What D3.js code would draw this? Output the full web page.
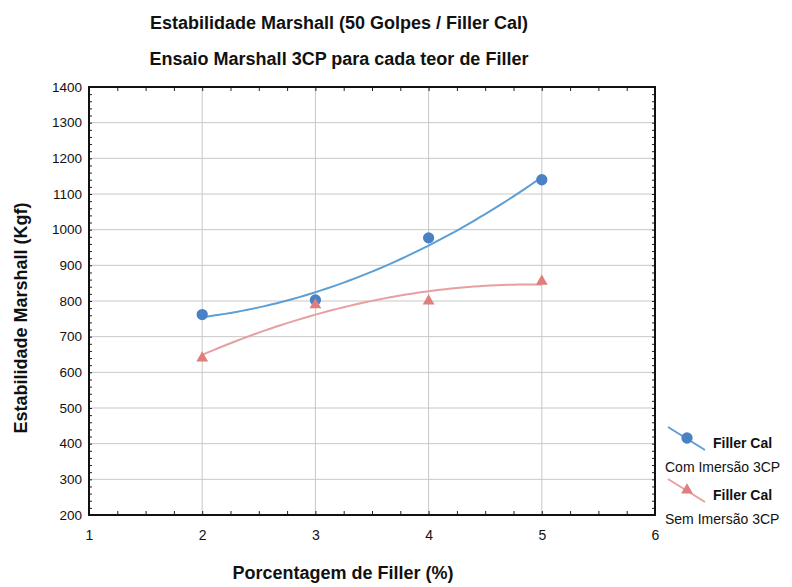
<!DOCTYPE html>
<html>
<head>
<meta charset="utf-8">
<script src="https://cdn.jsdelivr.net/npm/d3@7"></script>
<style>
  body { margin: 0; background: #fff; }
  text { font-family: "Liberation Sans", Arial, sans-serif; fill: #111; }
</style>
</head>
<body>
<svg id="chart"></svg>
<script>
var width = 792;
var height = 587;

var fillerPct = [2, 3, 4, 5];
var comImersao = [762, 803, 977, 1140];
var semImersao = [640, 789, 800, 855];
var xTicks = [1, 2, 3, 4, 5, 6];
var yTicks = [200, 300, 400, 500, 600, 700, 800, 900, 1000, 1100, 1200, 1300, 1400];

var plotLeft = 89, plotRight = 655, plotTop = 87, plotBottom = 515;

var svg = d3.select('#chart')
  .attr("width", width)
  .attr("height", height);

var x = d3.scaleLinear().domain([1, 6]).range([plotLeft, plotRight]);
var y = d3.scaleLinear().domain([200, 1400]).range([plotBottom, plotTop]);

// gridlines
svg.append("g").selectAll("line")
  .data(yTicks.slice(1, -1))
  .enter().append("line")
  .attr("x1", plotLeft).attr("x2", plotRight)
  .attr("y1", function(d) { return y(d); })
  .attr("y2", function(d) { return y(d); })
  .attr("stroke", "#c8c8c8")
  .attr("stroke-width", 1);

svg.append("g").selectAll("line")
  .data(xTicks.slice(1, -1))
  .enter().append("line")
  .attr("y1", plotTop).attr("y2", plotBottom)
  .attr("x1", function(d) { return x(d); })
  .attr("x2", function(d) { return x(d); })
  .attr("stroke", "#c8c8c8")
  .attr("stroke-width", 1);

// inward minor ticks on all four sides
var xMinor = d3.range(1, 6.001, 0.25);
var yMinor = d3.range(200, 1400.001, 20);

function noDomain(g) { g.select(".domain").remove(); }

svg.append("g")
  .attr("transform", "translate(0," + plotBottom + ")")
  .call(d3.axisTop(x).tickValues(xMinor).tickSize(4).tickFormat(""))
  .call(noDomain);
svg.append("g")
  .attr("transform", "translate(0," + plotTop + ")")
  .call(d3.axisBottom(x).tickValues(xMinor).tickSize(4).tickFormat(""))
  .call(noDomain);
svg.append("g")
  .attr("transform", "translate(" + plotLeft + ",0)")
  .call(d3.axisRight(y).tickValues(yMinor).tickSize(3).tickFormat(""))
  .call(noDomain);
svg.append("g")
  .attr("transform", "translate(" + plotRight + ",0)")
  .call(d3.axisLeft(y).tickValues(yMinor).tickSize(3).tickFormat(""))
  .call(noDomain);
svg.selectAll(".tick line").attr("stroke", "#222");

// tick labels
var xAxis = svg.append("g")
  .attr("transform", "translate(0," + plotBottom + ")")
  .call(d3.axisBottom(x).tickValues(xTicks).tickSize(0).tickPadding(15).tickFormat(d3.format("d")))
  .call(noDomain);
xAxis.selectAll("text").style("font-size", "14px").style("fill", "#111").style("font-family", "Liberation Sans, Arial, sans-serif");

var yAxis = svg.append("g")
  .attr("transform", "translate(" + plotLeft + ",0)")
  .call(d3.axisLeft(y).tickValues(yTicks).tickSize(0).tickPadding(7).tickFormat(d3.format("d")))
  .call(noDomain);
yAxis.selectAll("text").style("font-size", "13.5px").style("fill", "#111").style("font-family", "Liberation Sans, Arial, sans-serif");

// frame
svg.append("rect")
  .attr("x", plotLeft).attr("y", plotTop)
  .attr("width", plotRight - plotLeft).attr("height", plotBottom - plotTop)
  .attr("fill", "none")
  .attr("stroke", "#111")
  .attr("stroke-width", 2);

// quadratic least squares fit
function quadFit(xs, ys) {
  var s = [0, 0, 0, 0, 0], t = [0, 0, 0];
  for (var i = 0; i < xs.length; i++) {
    for (var k = 0; k < 5; k++) s[k] += Math.pow(xs[i], k);
    for (var k2 = 0; k2 < 3; k2++) t[k2] += ys[i] * Math.pow(xs[i], k2);
  }
  var A = [[s[0], s[1], s[2], t[0]], [s[1], s[2], s[3], t[1]], [s[2], s[3], s[4], t[2]]];
  for (var c = 0; c < 3; c++) {
    for (var r = c + 1; r < 3; r++) {
      var f = A[r][c] / A[c][c];
      for (var j = c; j < 4; j++) A[r][j] -= f * A[c][j];
    }
  }
  var b = [0, 0, 0];
  for (var r2 = 2; r2 >= 0; r2--) {
    var v = A[r2][3];
    for (var j2 = r2 + 1; j2 < 3; j2++) v -= A[r2][j2] * b[j2];
    b[r2] = v / A[r2][r2];
  }
  return function(xv) { return b[0] + b[1] * xv + b[2] * xv * xv; };
}

var series = [
  { values: comImersao, line: "#5b9fd6", mark: "#4a80c4", shape: d3.symbolCircle, size: 100 },
  { values: semImersao, line: "#e6a0a0", mark: "#e07d7d", shape: d3.symbolTriangle, size: 60 }
];

var lineGen = d3.line()
  .x(function(d) { return x(d[0]); })
  .y(function(d) { return y(d[1]); });

series.forEach(function(s) {
  var fit = quadFit(fillerPct, s.values);
  var pts = d3.range(2, 5.001, 0.05).map(function(v) { return [v, fit(v)]; });
  svg.append("path")
    .attr("d", lineGen(pts))
    .attr("fill", "none")
    .attr("stroke", s.line)
    .attr("stroke-width", 2);
  svg.append("g").selectAll("path")
    .data(fillerPct)
    .enter().append("path")
    .attr("d", d3.symbol().type(s.shape).size(s.size))
    .attr("transform", function(d, i) { return "translate(" + x(d) + "," + y(s.values[i]) + ")"; })
    .attr("fill", s.mark);
});

// titles
svg.append("text")
  .attr("x", 339).attr("y", 29)
  .attr("text-anchor", "middle")
  .style("font-size", "18px").style("font-weight", "bold")
  .text("Estabilidade Marshall (50 Golpes / Filler Cal)");
svg.append("text")
  .attr("x", 339).attr("y", 65)
  .attr("text-anchor", "middle")
  .style("font-size", "18px").style("font-weight", "bold")
  .text("Ensaio Marshall 3CP para cada teor de Filler");

svg.append("text")
  .attr("transform", "translate(27,318) rotate(-90)")
  .attr("text-anchor", "middle")
  .style("font-size", "18px").style("font-weight", "bold")
  .text("Estabilidade Marshall (Kgf)");

svg.append("text")
  .attr("x", 343).attr("y", 579)
  .attr("text-anchor", "middle")
  .style("font-size", "18px").style("font-weight", "bold")
  .text("Porcentagem de Filler (%)");

// legend
var legend = [
  { name: "Filler Cal", sub: "Com Imersão 3CP", y: 438 },
  { name: "Filler Cal", sub: "Sem Imersão 3CP", y: 490 }
];
legend.forEach(function(l, i) {
  var s = series[i];
  var g = svg.append("g");
  g.append("line")
    .attr("x1", 668).attr("y1", l.y - 11)
    .attr("x2", 705).attr("y2", l.y + 12)
    .attr("stroke", s.line).attr("stroke-width", 2);
  g.append("path")
    .attr("d", d3.symbol().type(s.shape).size(s.size))
    .attr("transform", "translate(687," + l.y + ")")
    .attr("fill", s.mark);
  g.append("text")
    .attr("x", 713).attr("y", l.y + 10)
    .style("font-size", "14px").style("font-weight", "bold")
    .text(l.name);
  g.append("text")
    .attr("x", 665).attr("y", l.y + 34)
    .style("font-size", "14px")
    .text(l.sub);
});
</script>
</body>
</html>
